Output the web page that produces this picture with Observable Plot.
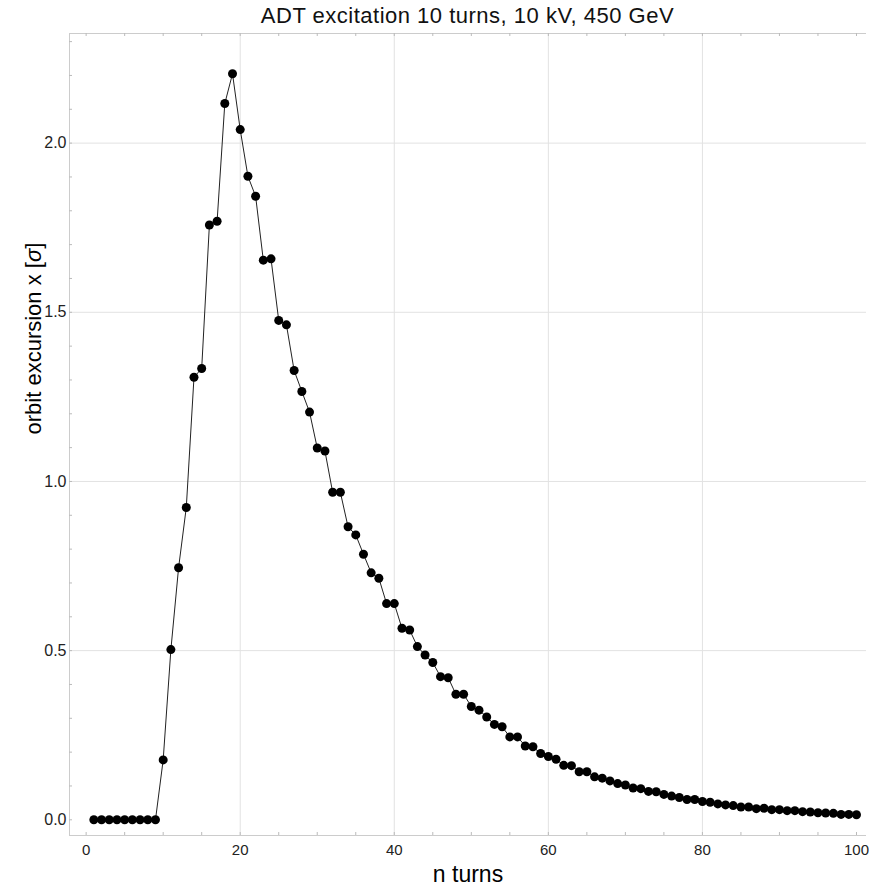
<!DOCTYPE html>
<html><head><meta charset="utf-8">
<script src="https://cdn.jsdelivr.net/npm/d3@7"></script>
<script src="https://cdn.jsdelivr.net/npm/@observablehq/plot@0.6"></script>
<style>
body{margin:0;background:#fff;font-family:"Liberation Sans",Arial,Helvetica,sans-serif;}
#title{height:32px;position:relative;}
#title span{position:absolute;left:69px;width:797px;text-align:center;top:5px;font-size:22px;line-height:22px;letter-spacing:0.5px;color:#111;white-space:nowrap;}
svg{display:block}
</style></head><body>
<div id="title"><span>ADT excitation 10 turns, 10 kV, 450 GeV</span></div>
<div id="chart"></div>
<script>
const titleText = "ADT excitation 10 turns, 10 kV, 450 GeV";
const xLabel = "n turns";
const yLabel = "orbit excursion x [σ]";

const turns = [1,2,3,4,5,6,7,8,9,10,11,12,13,14,15,16,17,18,19,20,
  21,22,23,24,25,26,27,28,29,30,31,32,33,34,35,36,37,38,39,40,
  41,42,43,44,45,46,47,48,49,50,51,52,53,54,55,56,57,58,59,60,
  61,62,63,64,65,66,67,68,69,70,71,72,73,74,75,76,77,78,79,80,
  81,82,83,84,85,86,87,88,89,90,91,92,93,94,95,96,97,98,99,100];
const excursion = [0,0,0,0,0,0,0,0,0,0.177,
  0.503,0.745,0.923,1.308,1.334,1.758,1.769,2.117,2.205,2.040,
  1.902,1.843,1.654,1.658,1.476,1.463,1.328,1.266,1.205,1.099,
  1.090,0.968,0.968,0.866,0.842,0.785,0.730,0.714,0.639,0.639,
  0.566,0.561,0.512,0.487,0.465,0.423,0.420,0.371,0.371,0.335,
  0.324,0.304,0.282,0.275,0.245,0.245,0.218,0.216,0.196,0.187,
  0.179,0.161,0.160,0.142,0.142,0.127,0.123,0.115,0.107,0.103,
  0.094,0.092,0.084,0.083,0.075,0.070,0.066,0.060,0.060,0.054,
  0.052,0.047,0.044,0.042,0.038,0.038,0.033,0.034,0.030,0.030,
  0.027,0.027,0.024,0.023,0.021,0.020,0.019,0.016,0.016,0.015];

const xTicks = [0,20,40,60,80,100];
const yTicks = [0,0.5,1.0,1.5,2.0];
const xGrid = [20,40,60,80];
const yGrid = [0.5,1.0,1.5,2.0];
const xMinor = [0,5,10,15,20,25,30,35,40,45,50,55,60,65,70,75,80,85,90,95,100];
const yMinor = [0,0.1,0.2,0.3,0.4,0.5,0.6,0.7,0.8,0.9,1.0,1.1,1.2,1.3,1.4,1.5,1.6,1.7,1.8,1.9,2.0,2.1,2.2,2.3];
const xDomain = [-2.16, 101.3];
const yDomain = [-0.0464, 2.324];

const data = turns.map((t, i) => ({turn: t, value: excursion[i]}));

const W = 869, H = 855;
const mL = 69, mR = 3, mT = 1, mB = 52;
const innerW = W - mL - mR, innerH = H - mT - mB;
const tickLen = 3;

const svg = Plot.plot({
  width: W, height: H,
  marginLeft: mL, marginRight: mR, marginTop: mT, marginBottom: mB,
  style: {fontFamily: '"Liberation Sans", Arial, Helvetica, sans-serif', fontSize: "16px", color: "#222", background: "#fff"},
  x: {domain: xDomain, label: null},
  y: {domain: yDomain, label: null},
  marks: [
    Plot.gridX(xGrid, {stroke: "#e2e2e2", strokeOpacity: 1}),
    Plot.gridY(yGrid, {stroke: "#e2e2e2", strokeOpacity: 1}),
    Plot.ruleY([yDomain[1]], {stroke: "#cccccc"}),
    Plot.ruleY([yDomain[0]], {stroke: "#cccccc"}),
    Plot.ruleX([xDomain[0]], {stroke: "#cccccc"}),
    Plot.tickX(xMinor, {x: d => d, insetTop: innerH - tickLen, stroke: "#bbbbbb"}),
    Plot.tickX(xMinor, {x: d => d, insetBottom: innerH - tickLen, stroke: "#bbbbbb"}),
    Plot.tickY(yMinor, {y: d => d, insetRight: innerW - tickLen, stroke: "#bbbbbb"}),
    Plot.axisX({ticks: xTicks, tickSize: 0, tickPadding: 9, label: null, fontSize: 15, tickFormat: d3.format("d")}),
    Plot.axisY({ticks: yTicks, tickSize: 0, tickPadding: 3, label: null, fontSize: 16, tickFormat: d3.format(".1f")}),
    Plot.line(data, {x: "turn", y: "value", stroke: "#222", strokeWidth: 1}),
    Plot.dot(data, {x: "turn", y: "value", r: 4.5, fill: "#000", stroke: "none"}),
    Plot.text([xLabel], {frameAnchor: "bottom", lineAnchor: "top", dy: 30, fontSize: 23, fill: "#000"}),
    Plot.text([yLabel], {frameAnchor: "left", rotate: -90, dx: -36, fontSize: 22, fill: "#000"})
  ]
});

for (const t of svg.querySelectorAll("text")) {
  if (t.textContent === yLabel) {
    t.textContent = "";
    const ns = "http://www.w3.org/2000/svg";
    const a = document.createElementNS(ns, "tspan"); a.textContent = "orbit excursion x [";
    const b = document.createElementNS(ns, "tspan"); b.textContent = "σ"; b.setAttribute("font-style", "italic");
    const c = document.createElementNS(ns, "tspan"); c.textContent = "]";
    t.append(a, b, c);
  }
}
document.getElementById("chart").appendChild(svg);
</script>
</body></html>
